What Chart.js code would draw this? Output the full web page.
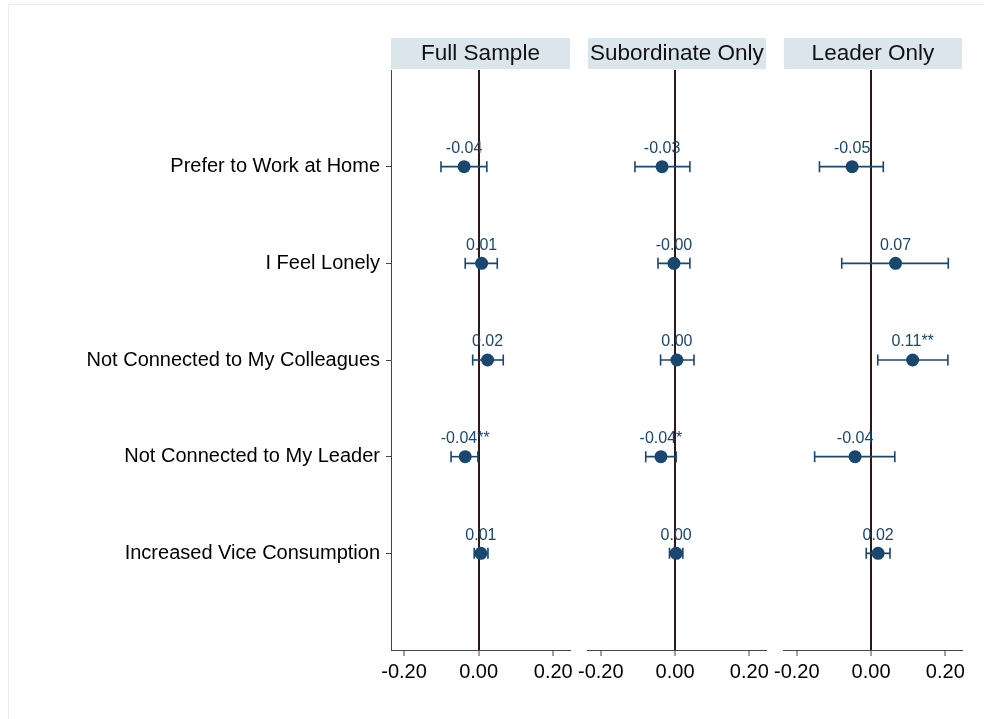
<!DOCTYPE html>
<html>
<head>
<meta charset="utf-8">
<script src="https://cdn.jsdelivr.net/npm/chart.js@4.4.0/dist/chart.umd.min.js"></script>
<style>
html,body{margin:0;padding:0;background:#fff;}
#wrap{position:relative;width:984px;height:719px;overflow:hidden;background:#fff;}
#frame{position:absolute;left:8px;top:4px;width:990px;height:730px;border-left:1px solid #e8eeee;border-top:1px solid #e8eeee;}
canvas{position:absolute;top:0;}
</style>
</head>
<body>
<div id="wrap">
<div id="frame"></div>
<canvas id="c1" width="584" height="719" style="left:0px"></canvas>
<canvas id="c2" width="207" height="719" style="left:573px"></canvas>
<canvas id="c3" width="207" height="719" style="left:769px"></canvas>
</div>
<script>
// ---------- data ----------
const categories = ["Prefer to Work at Home", "I Feel Lonely", "Not Connected to My Colleagues", "Not Connected to My Leader", "Increased Vice Consumption"];
const panelTitles = ["Full Sample", "Subordinate Only", "Leader Only"];
const xTickValues = [-0.2, 0, 0.2];

const fullEst    = [-0.039, 0.008, 0.024, -0.036, 0.006];
const fullLo     = [-0.101, -0.036, -0.016, -0.074, -0.012];
const fullHi     = [0.022, 0.050, 0.066, -0.002, 0.025];
const fullLabels = ["-0.04", "0.01", "0.02", "-0.04**", "0.01"];

const subEst    = [-0.035, -0.003, 0.005, -0.038, 0.003];
const subLo     = [-0.108, -0.046, -0.039, -0.079, -0.015];
const subHi     = [0.040, 0.040, 0.051, 0.003, 0.021];
const subLabels = ["-0.03", "-0.00", "0.00", "-0.04*", "0.00"];

const leadEst    = [-0.051, 0.066, 0.112, -0.043, 0.019];
const leadLo     = [-0.139, -0.079, 0.018, -0.152, -0.013];
const leadHi     = [0.033, 0.208, 0.207, 0.064, 0.051];
const leadLabels = ["-0.05", "0.07", "0.11**", "-0.04", "0.02"];

// ---------- style ----------
const NAVY = '#1a476f';
const ZERO = '#2e1818';
const AXIS = '#444444';
const FONT = "'Liberation Sans', Arial, Helvetica, sans-serif";

const panelDeco = {
  id: 'panelDeco',
  beforeDraw(chart, args, opts) {
    const ctx = chart.ctx, a = chart.chartArea;
    ctx.save();
    ctx.fillStyle = '#dae6ec';
    ctx.fillRect(a.left, 38, a.right - a.left, 31);
    ctx.fillStyle = '#111';
    ctx.font = '22.5px ' + FONT;
    ctx.textAlign = 'center';
    ctx.textBaseline = 'middle';
    ctx.fillText(opts.title, (a.left + a.right) / 2, 54);
    ctx.restore();
  },
  afterDatasetsDraw(chart, args, opts) {
    const ctx = chart.ctx, xs = chart.scales.x, ys = chart.scales.y;
    ctx.save();
    ctx.fillStyle = NAVY;
    ctx.font = '16px ' + FONT;
    ctx.textAlign = 'center';
    ctx.textBaseline = 'middle';
    opts.est.forEach((v, i) => {
      ctx.fillText(opts.labels[i], xs.getPixelForValue(v), ys.getPixelForValue(i + 1) - 18);
    });
    ctx.restore();
  }
};

function makeChart(id, title, est, lo, hi, labels, showY) {
  const datasets = [{
    type: 'scatter',
    data: est.map((v, i) => ({x: v, y: i + 1})),
    pointRadius: 6.5,
    pointBackgroundColor: NAVY,
    pointBorderColor: NAVY,
    pointBorderWidth: 0,
    showLine: false,
    order: 0
  }];
  categories.forEach((c, i) => {
    datasets.push({
      type: 'scatter',
      data: [{x: lo[i], y: i + 1}, {x: hi[i], y: i + 1}],
      showLine: true,
      borderColor: NAVY,
      borderWidth: 1.6,
      pointStyle: 'line',
      pointRotation: 90,
      pointRadius: 5.5,
      pointBorderColor: NAVY,
      pointBorderWidth: 1.6,
      order: 1
    });
  });
  return new Chart(document.getElementById(id), {
    type: 'scatter',
    data: {datasets},
    plugins: [panelDeco],
    options: {
      responsive: false,
      animation: false,
      events: [],
      layout: {padding: {left: showY ? 0 : 14, right: 14, top: 70, bottom: 35}},
      plugins: {
        legend: {display: false},
        tooltip: {enabled: false},
        panelDeco: {title, labels, est}
      },
      scales: {
        x: {
          type: 'linear',
          min: -0.235,
          max: 0.245,
          afterBuildTicks: s => { s.ticks = xTickValues.map(v => ({value: v})); },
          afterFit: s => { s.height = 34; },
          ticks: {
            callback: v => Number(v).toFixed(2),
            font: {size: 20, family: FONT},
            color: '#000',
            padding: 4,
            maxRotation: 0,
            autoSkip: false
          },
          grid: {
            color: c => (c.tick && Math.abs(c.tick.value) < 1e-9) ? ZERO : 'rgba(0,0,0,0)',
            lineWidth: 2,
            tickColor: AXIS,
            tickLength: 6,
            tickWidth: 1
          },
          border: {display: true, color: AXIS, width: 1}
        },
        y: {
          type: 'linear',
          reverse: true,
          min: 0,
          max: 6,
          display: showY,
          afterBuildTicks: s => { s.ticks = categories.map((c, i) => ({value: i + 1})); },
          afterFit: s => { s.width = showY ? 391 : 0; },
          ticks: {
            callback: v => categories[v - 1],
            font: {size: 20, family: FONT},
            color: '#000',
            padding: 6,
            autoSkip: false
          },
          grid: {
            drawOnChartArea: false,
            tickLength: 5,
            tickColor: AXIS,
            tickWidth: 1
          },
          border: {display: true, color: AXIS, width: 1}
        }
      }
    }
  });
}

makeChart('c1', panelTitles[0], fullEst, fullLo, fullHi, fullLabels, true);
makeChart('c2', panelTitles[1], subEst, subLo, subHi, subLabels, false);
makeChart('c3', panelTitles[2], leadEst, leadLo, leadHi, leadLabels, false);
</script>
</body>
</html>
